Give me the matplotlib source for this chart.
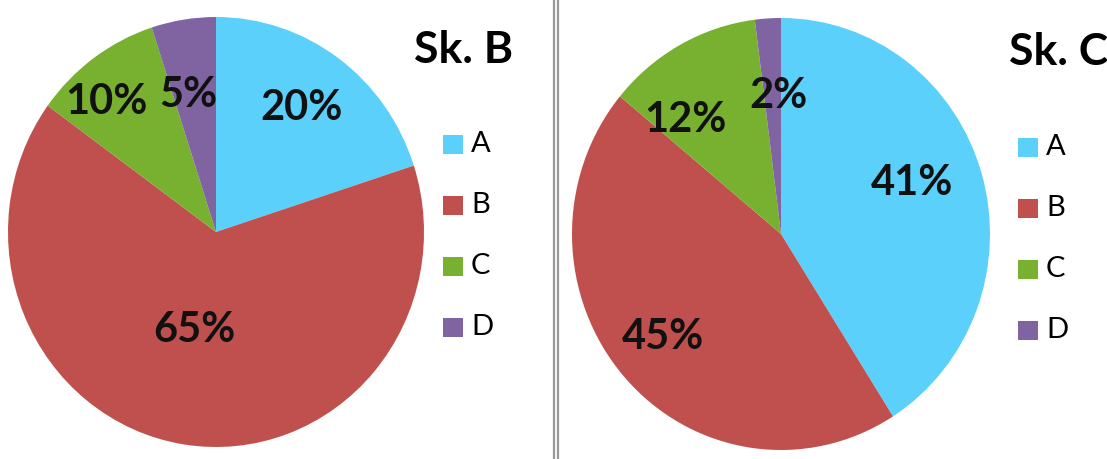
import numpy as np
import matplotlib
matplotlib.use("Agg")
import matplotlib.pyplot as plt
from matplotlib.patches import Rectangle
from matplotlib.lines import Line2D

# ---- data ----
categories = ["A", "B", "C", "D"]
values_b = [20, 65, 10, 5]
values_c = [41, 45, 12, 2]
titles = ["Sk. B", "Sk. C"]
colors = ["#5BD0FB", "#C0504D", "#78B030", "#8064A2"]

# label placement (radius fraction, angle offset in degrees) per wedge
label_pos_b = [(0.71, 0.5), (0.47, -4), (0.80, 5), (0.65, 3)]
label_pos_c = [(0.67, 4.6), (0.74, -1.4), (0.70, 12), (0.64, -2.6)]

W, H = 1107, 459
fig = plt.figure(figsize=(W / 100, H / 100), dpi=100)
fig.patch.set_facecolor("white")

def px_axes(cx, cy, rx, ry):
    # cx, cy in pixel coords from top-left
    return fig.add_axes([(cx - rx) / W, (H - cy - ry) / H, 2 * rx / W, 2 * ry / H])

def draw_pie(cx, cy, rx, ry, vals, lpos, title, title_xy, leg_x, leg_y0):
    ax = px_axes(cx, cy, rx, ry)
    wedges, _ = ax.pie(vals, colors=colors, startangle=90, counterclock=False,
                       radius=1.0, wedgeprops=dict(linewidth=0))
    ax.set_aspect("auto")
    ax.set_xlim(-1, 1)
    ax.set_ylim(-1, 1)
    ax.set_axis_off()
    for w, v, (rf, dang) in zip(wedges, vals, lpos):
        mid = np.deg2rad((w.theta1 + w.theta2) / 2 + dang)
        ax.text(rf * np.cos(mid), rf * np.sin(mid), f"{v}%", ha="center", va="center",
                fontsize=30, fontweight="bold", family="Lato", color="#111111")
    fig.text(title_xy[0] / W, 1 - title_xy[1] / H, title, ha="left", va="center",
             fontsize=32, fontweight="bold", family="Lato", color="black")
    # legend
    for i, (cat, col) in enumerate(zip(categories, colors)):
        y = leg_y0 + i * 61
        fig.patches.append(Rectangle(((leg_x) / W, 1 - (y + 10) / H), 20 / W, 19 / H,
                                     transform=fig.transFigure, facecolor=col,
                                     edgecolor="none", figure=fig))
        fig.text((leg_x + 28) / W, 1 - y / H, cat, ha="left", va="center",
                 fontsize=21, family="Lato", color="black")

draw_pie(216, 232, 208, 215, values_b, label_pos_b, titles[0], (414, 50), 443, 144)
draw_pie(781, 234, 209, 216, values_c, label_pos_c, titles[1], (1009, 52), 1018, 147)

# separator double line
for x in (553.5, 558):
    fig.lines.append(Line2D([x / W, x / W], [0, 1], transform=fig.transFigure,
                            color="#999999", linewidth=1.6, figure=fig))

fig.savefig("out.png", dpi=100, facecolor="white")
